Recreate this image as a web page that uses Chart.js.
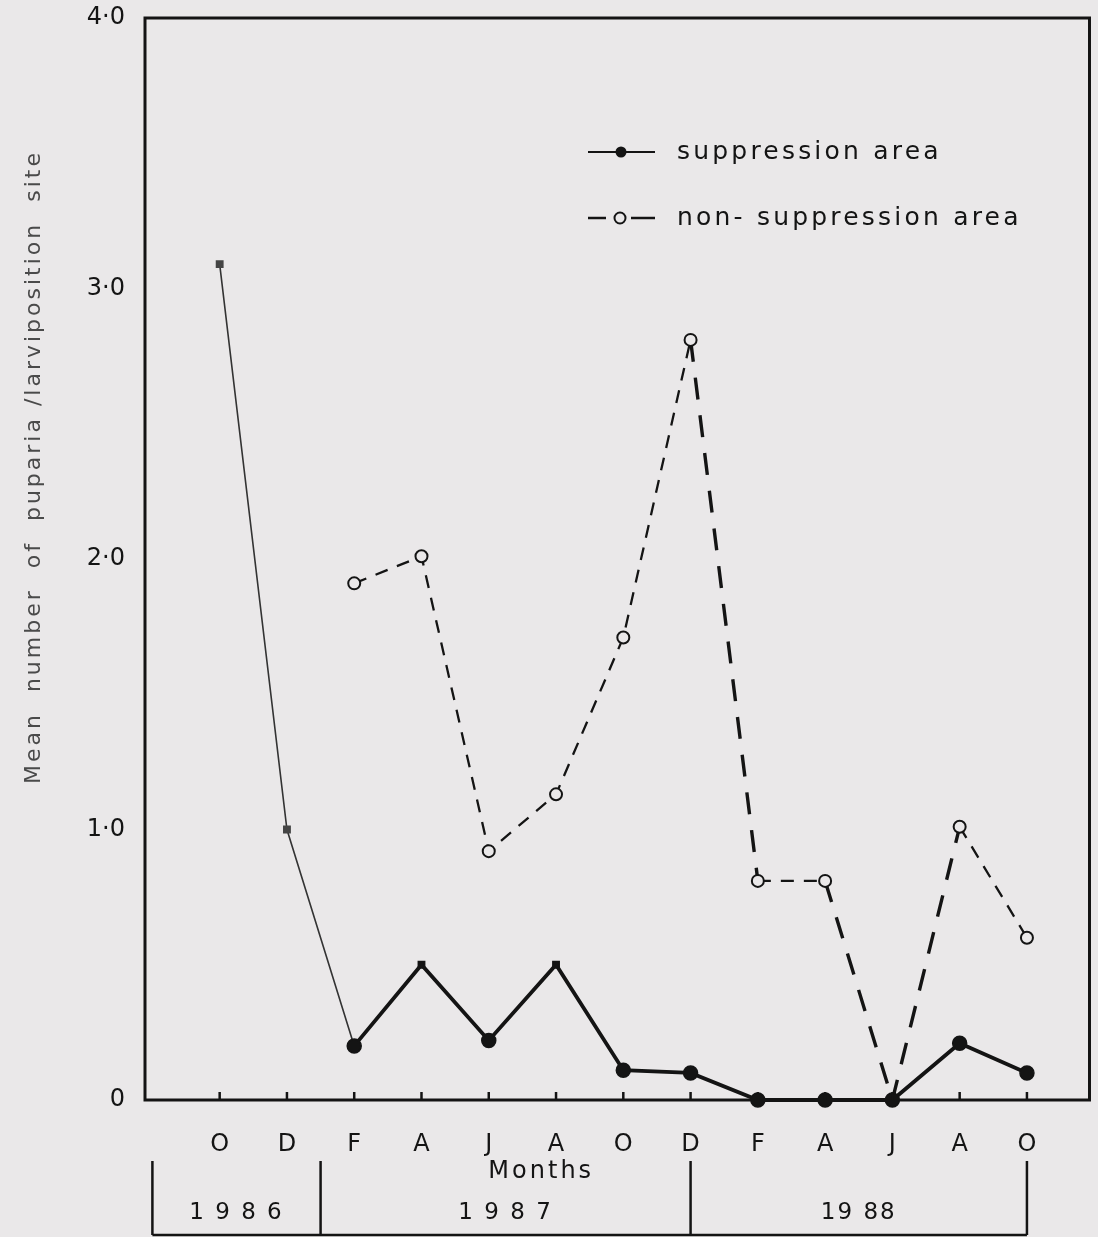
<!DOCTYPE html>
<html>
<head>
<meta charset="utf-8">
<script src="https://cdn.jsdelivr.net/npm/chart.js@4.4.1/dist/chart.umd.min.js"></script>
<style>
  html, body { margin: 0; padding: 0; background: #eae8e9; }
  #wrap { width: 1098px; height: 1237px; position: relative; }
</style>
</head>
<body>
<div id="wrap"><canvas id="chart"></canvas></div>
<script>
// months sampled, Oct 1986 .. Oct 1988
const months = ['O', 'D', 'F', 'A', 'J', 'A', 'O', 'D', 'F', 'A', 'J', 'A', 'O'];
const suppression = [3.09, 1.0, 0.2, 0.5, 0.22, 0.5, 0.11, 0.1, 0, 0, 0, 0.21, 0.1];
const nonSuppression = [null, null, 1.91, 2.01, 0.92, 1.13, 1.71, 2.81, 0.81, 0.81, 0, 1.01, 0.6];
const yTicks = [0, 1, 2, 3, 4];
const years = ['1 9 8 6', '1 9 8 7', '19 88'];
// year brackets run between these month positions
const yearEdges = [-1, 1.5, 7, 12];
const seriesNames = ['suppression area', 'non- suppression area'];
const yTitle = 'Mean  number  of  puparia /larviposition  site';

const ink = '#141414';
const bg = '#eae8e9';

const toXY = arr => arr.map((v, i) => ({ x: i, y: v }));

// small square markers where the original plot used them
const supStyle = suppression.map((v, i) => (i === 0 || i === 1 || i === 3 || i === 5) ? 'rect' : 'circle');
const supRadius = supStyle.map(s => s === 'rect' ? 4.5 : 7);
const supColor = suppression.map((v, i) => i < 2 ? '#444' : ink);

const frame = {
  id: 'frame',
  afterDraw(chart) {
    const { ctx, chartArea: a, scales } = chart;
    const x = scales.x;
    const y = scales.y;
    ctx.save();
    ctx.strokeStyle = ink;
    ctx.lineWidth = 3;
    ctx.strokeRect(a.left, a.top, a.right - a.left, a.bottom - a.top);

    // inward tick marks on the month axis
    ctx.lineWidth = 2.5;
    months.forEach((m, i) => {
      const px = x.getPixelForValue(i);
      ctx.beginPath();
      ctx.moveTo(px, a.bottom);
      ctx.lineTo(px, a.bottom - 8);
      ctx.stroke();
    });

    // rotated y title
    ctx.save();
    ctx.translate(34, y.getPixelForValue(2.34));
    ctx.rotate(-Math.PI / 2);
    ctx.fillStyle = '#4a4a4a';
    ctx.font = '22px "DejaVu Sans"';
    ctx.letterSpacing = '3px';
    ctx.textAlign = 'center';
    ctx.textBaseline = 'middle';
    ctx.fillText(yTitle, 0, 0);
    ctx.restore();

    // Months caption and year brackets
    ctx.fillStyle = ink;
    ctx.font = '24px "DejaVu Sans"';
    ctx.textAlign = 'center';
    ctx.textBaseline = 'middle';
    ctx.letterSpacing = '3px';
    ctx.fillText('Months', x.getPixelForValue(4.78), 1172);

    ctx.lineWidth = 2.5;
    const top = 1161, bot = 1235;
    yearEdges.forEach(v => {
      const px = x.getPixelForValue(v);
      ctx.beginPath();
      ctx.moveTo(px, top);
      ctx.lineTo(px, bot);
      ctx.stroke();
    });
    ctx.beginPath();
    ctx.moveTo(x.getPixelForValue(yearEdges[0]), bot);
    ctx.lineTo(x.getPixelForValue(yearEdges[3]), bot);
    ctx.stroke();

    ctx.font = '23px "DejaVu Sans"';
    ctx.letterSpacing = '2px';
    years.forEach((yr, i) => {
      const mid = (x.getPixelForValue(yearEdges[i]) + x.getPixelForValue(yearEdges[i + 1])) / 2;
      ctx.fillText(yr, mid, 1213);
    });

    // legend, upper right
    ctx.textAlign = 'left';
    ctx.font = '25px "DejaVu Sans"';
    ctx.letterSpacing = '3.2px';
    const lx0 = 588, lx1 = 655, lmid = 621;
    let ly = 152;
    ctx.lineWidth = 2;
    ctx.beginPath(); ctx.moveTo(lx0, ly); ctx.lineTo(lx1, ly); ctx.stroke();
    ctx.beginPath(); ctx.arc(lmid, ly, 5.5, 0, Math.PI * 2); ctx.fill();
    ctx.fillText(seriesNames[0], 677, ly);

    ly = 218;
    ctx.lineWidth = 2.5;
    ctx.beginPath(); ctx.moveTo(lx0, ly); ctx.lineTo(lx0 + 18, ly); ctx.stroke();
    ctx.beginPath(); ctx.moveTo(lmid + 10, ly); ctx.lineTo(lx1, ly); ctx.stroke();
    ctx.lineWidth = 2;
    ctx.beginPath(); ctx.arc(lmid - 1, ly, 5.5, 0, Math.PI * 2); ctx.stroke();
    ctx.fillText(seriesNames[1], 677, ly);
    ctx.restore();
  }
};

new Chart(document.getElementById('chart'), {
  type: 'line',
  data: {
    datasets: [
      {
        label: seriesNames[0],
        data: toXY(suppression),
        borderColor: ink,
        borderWidth: 3.8,
        segment: {
          borderWidth: c => c.p0DataIndex < 2 ? 1.6 : 3.8,
          borderColor: c => c.p0DataIndex < 2 ? '#333' : ink
        },
        pointStyle: supStyle,
        pointRadius: supRadius,
        pointBorderWidth: 1.5,
        pointBorderColor: supColor,
        pointBackgroundColor: supColor,
        clip: false,
        tension: 0
      },
      {
        label: seriesNames[1],
        data: toXY(nonSuppression),
        borderColor: ink,
        borderWidth: 2.2,
        borderDash: [13, 10],
        segment: {
          borderWidth: c => (c.p0DataIndex === 7 || c.p0DataIndex === 9 || c.p0DataIndex === 10) ? 3.4 : 2.3,
          borderDash: c => (c.p0DataIndex === 7 || c.p0DataIndex === 9 || c.p0DataIndex === 10) ? [22, 16] : [13, 10]
        },
        pointStyle: 'circle',
        pointRadius: 6,
        pointBorderWidth: 2,
        pointBorderColor: ink,
        pointBackgroundColor: bg,
        spanGaps: false,
        clip: false,
        tension: 0
      }
    ]
  },
  options: {
    responsive: true,
    maintainAspectRatio: false,
    animation: false,
    events: [],
    layout: { padding: { top: 18, right: 5, left: 0, bottom: 0 } },
    plugins: {
      legend: { display: false },
      tooltip: { enabled: false }
    },
    scales: {
      x: {
        type: 'linear',
        min: -1.11,
        max: 12.93,
        afterBuildTicks: s => { s.ticks = months.map((m, i) => ({ value: i })); },
        afterFit: s => { s.height = 137; },
        grid: { display: false },
        border: { display: false },
        ticks: {
          autoSkip: false,
          maxRotation: 0,
          padding: 22,
          color: ink,
          font: { family: 'DejaVu Sans', size: 24 },
          callback: v => months[v]
        }
      },
      y: {
        min: 0,
        max: 4,
        afterBuildTicks: s => { s.ticks = yTicks.map(v => ({ value: v })); },
        afterFit: s => { s.width = 145; s.paddingTop = 0; s.paddingBottom = 0; },
        grid: { display: false },
        border: { display: false },
        ticks: {
          padding: 12,
          color: ink,
          font: { family: 'DejaVu Sans', size: 24 },
          callback: v => v === 0 ? '0' : v.toFixed(1).replace('.', '·')
        }
      }
    }
  },
  plugins: [frame]
});
</script>
</body>
</html>
